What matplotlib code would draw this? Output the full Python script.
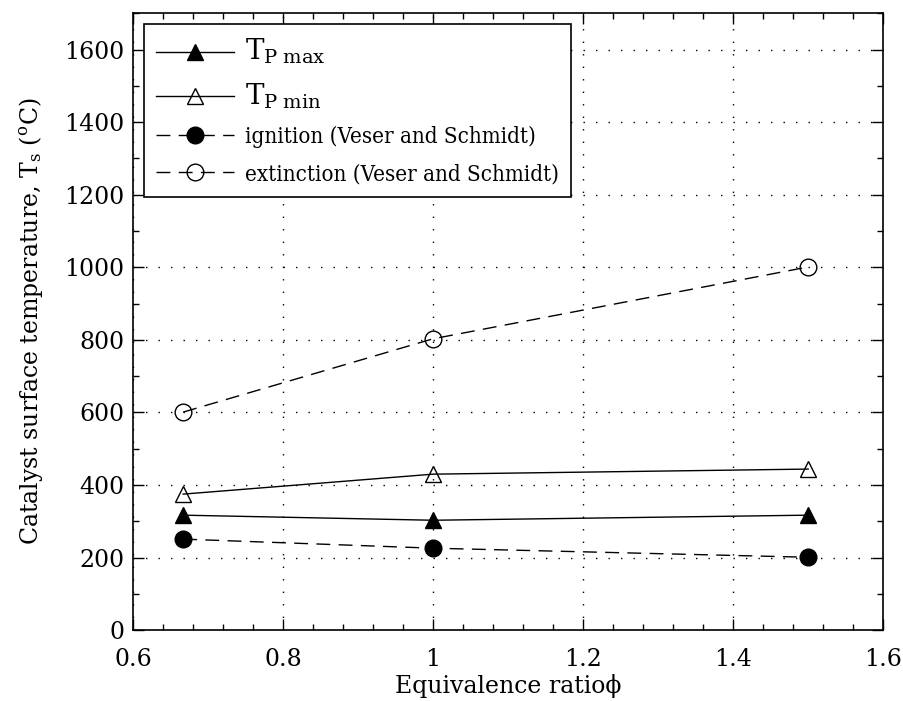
import matplotlib
matplotlib.use("Agg")
import matplotlib.pyplot as plt
from matplotlib.ticker import MultipleLocator

phi = [0.667, 1.0, 1.5]
tp_max = [317, 303, 317]
tp_min = [375, 430, 444]
ignition = [251, 226, 201]
extinction = [601, 803, 1001]

plt.rcParams['font.family'] = ['DejaVu Serif']
plt.rcParams['mathtext.fontset'] = 'dejavuserif'

fig = plt.figure(figsize=(9.04, 7.01), dpi=100)
ax = fig.add_axes([0.147, 0.101, 0.83, 0.88])

ms = 12
dash = (10, 6)
ax.plot(phi, tp_max, '-', color='black', lw=1, marker='^', ms=ms, mfc='black', mec='black',
        label=r'$\mathrm{T_{P\ max}}$')
ax.plot(phi, tp_min, '-', color='black', lw=1, marker='^', ms=ms, mfc='none', mec='black',
        label=r'$\mathrm{T_{P\ min}}$')
ax.plot(phi, ignition, '--', color='black', lw=1, dashes=dash, marker='o', ms=ms, mfc='black', mec='black',
        label='ignition (Veser and Schmidt)')
ax.plot(phi, extinction, '--', color='black', lw=1, dashes=dash, marker='o', ms=ms, mfc='none', mec='black',
        label='extinction (Veser and Schmidt)')

ax.set_xlim(0.6, 1.6)
ax.set_ylim(0, 1700)
ax.xaxis.set_major_locator(MultipleLocator(0.2))
ax.xaxis.set_minor_locator(MultipleLocator(0.04))
ax.yaxis.set_major_locator(MultipleLocator(200))
ax.yaxis.set_minor_locator(MultipleLocator(100))
ax.set_xticks([0.6, 0.8, 1.0, 1.2, 1.4, 1.6])
ax.set_xticklabels(['0.6', '0.8', '1', '1.2', '1.4', '1.6'])

ax.tick_params(which='both', direction='in', top=True, right=True, labelsize=17, width=1)
ax.tick_params(which='major', length=8)
ax.tick_params(which='minor', length=4)
ax.tick_params(axis='x', which='major', pad=13)
ax.tick_params(axis='y', which='major', pad=6)
for s in ax.spines.values():
    s.set_linewidth(1.2)

ax.grid(True, which='major', color='black', linestyle=(0, (1, 8)), linewidth=1)

ax.set_xlabel('Equivalence ratio\u03d5', fontsize=17, labelpad=2)
ax.set_ylabel('Catalyst surface temperature, T$_\\mathrm{s}$ ($^{\\mathrm{o}}$C)', fontsize=17, labelpad=14)

leg = ax.legend(loc='upper left', prop={'family': 'DejaVu Serif', 'stretch': 'condensed', 'size': 16},
                frameon=True, fancybox=False, edgecolor='black',
                framealpha=1, handlelength=3.5, borderaxespad=0.5, labelspacing=0.68,
                handletextpad=0.5, borderpad=0.55)
for t in leg.get_texts()[:2]:
    t.set_fontsize(20)
leg.get_frame().set_linewidth(1.2)

fig.savefig('out.png', dpi=100)
